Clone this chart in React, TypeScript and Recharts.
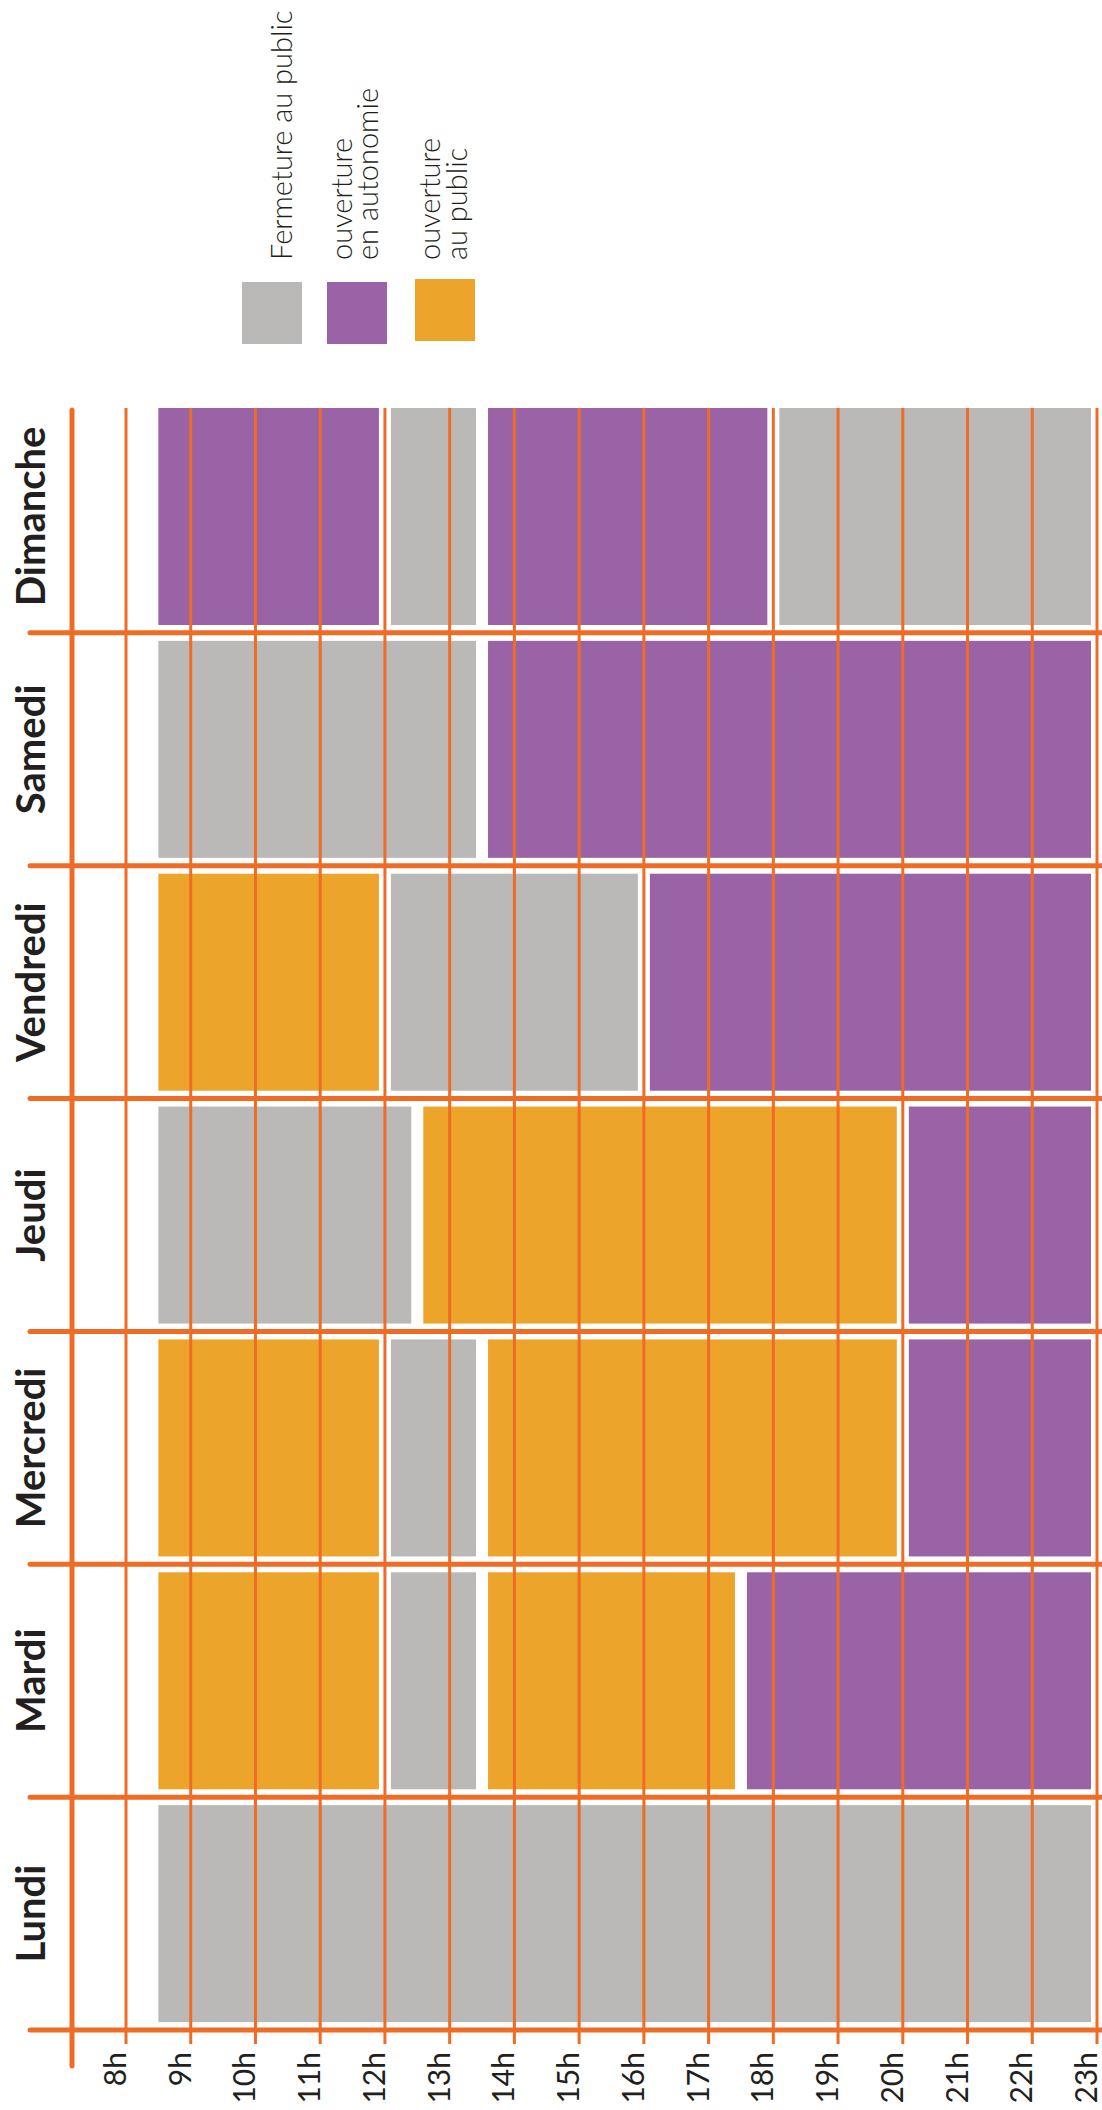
import { BarChart, Bar, XAxis, YAxis, Legend } from 'recharts';

// jours, du haut vers le bas
const days = ['Dimanche', 'Samedi', 'Vendredi', 'Jeudi', 'Mercredi', 'Mardi', 'Lundi'];
const hours = [8, 9, 10, 11, 12, 13, 14, 15, 16, 17, 18, 19, 20, 21, 22, 23];

// bornes des plages horaires + statut de chaque plage
const dimancheHours = [8.5, 12, 13.5, 18, 23];
const dimancheStatus = ['autonomie', 'fermeture', 'autonomie', 'fermeture'];
const samediHours = [8.5, 13.5, 23];
const samediStatus = ['fermeture', 'autonomie'];
const vendrediHours = [8.5, 12, 16, 23];
const vendrediStatus = ['public', 'fermeture', 'autonomie'];
const jeudiHours = [8.5, 12.5, 20, 23];
const jeudiStatus = ['fermeture', 'public', 'autonomie'];
const mercrediHours = [8.5, 12, 13.5, 20, 23];
const mercrediStatus = ['public', 'fermeture', 'public', 'autonomie'];
const mardiHours = [8.5, 12, 13.5, 17.5, 23];
const mardiStatus = ['public', 'fermeture', 'public', 'autonomie'];
const lundiHours = [8.5, 23];
const lundiStatus = ['fermeture'];

const legendKeys = ['fermeture', 'autonomie', 'public'];
const legendLabels = [['Fermeture au public'], ['ouverture', 'en autonomie'], ['ouverture', 'au public']];

const colors: Record<string, string> = {
  fermeture: '#BAB9B7',
  autonomie: '#9A63A6',
  public: '#EDA42B',
};
const LINE = '#EE6C25';
const TEXT = '#231F20';
const FONT = 'Lato, "Open Sans", sans-serif';

const W = 1102;
const H = 2110;
const TOP = 400;
const AXIS_H = 80;
const LEFT = 71;
const PLOT_BOTTOM = H - AXIS_H;
const BAND = (PLOT_BOTTOM - TOP) / days.length;
const GAP = 6;

const schedule = [
  [dimancheHours, dimancheStatus],
  [samediHours, samediStatus],
  [vendrediHours, vendrediStatus],
  [jeudiHours, jeudiStatus],
  [mercrediHours, mercrediStatus],
  [mardiHours, mardiStatus],
  [lundiHours, lundiStatus],
] as [number[], string[]][];

const data = days.map((day, i) => {
  const [h, st] = schedule[i];
  const row: any = { day, base: h[0] };
  st.forEach((s, k) => {
    row[`s${k}`] = h[k + 1] - h[k];
    row[`st${k}`] = s;
  });
  return row;
});

const segShape = (k: number) => (props: any) => {
  const { x, y, width, height, payload } = props;
  const status = payload?.[`st${k}`];
  if (!status || !(width > 0)) return <g />;
  const l = k === 0 ? 0 : GAP;
  return <rect x={x + l} y={y} width={width - l - GAP} height={height} fill={colors[status]} />;
};

const DayTick = (props: any) => {
  const { y, payload, index } = props;
  const top = y - BAND / 2;
  const bottom = y + BAND / 2;
  const last = index === days.length - 1;
  return (
    <g>
      <line x1={LEFT + 1} x2={LEFT + 1} y1={index === 0 ? top + 10 : top} y2={last ? bottom + 36 : bottom}
        stroke={LINE} strokeWidth={5} strokeLinecap="round" />
      <line x1={30} x2={W + 4} y1={bottom} y2={bottom} stroke={LINE} strokeWidth={5} strokeLinecap="round" />
      <text x={45} y={y} transform={`rotate(-90, 45, ${y})`} textAnchor="middle"
        fontFamily={FONT} fontSize={40} fontWeight={700} fill={TEXT}>
        {payload.value}
      </text>
    </g>
  );
};

const HourTick = (props: any) => {
  const { x, payload } = props;
  return (
    <g>
      <line x1={x} x2={x} y1={TOP + 8} y2={PLOT_BOTTOM + 14} stroke={LINE} strokeWidth={3} />
      <text x={x} y={2052} transform={`rotate(-90, ${x}, 2052)`} textAnchor="end"
        fontFamily={FONT} fontSize={30} fill={TEXT}>
        {`${payload.value}h`}
      </text>
    </g>
  );
};

const LegendBox = () => {
  const squares = [
    { x: 242, y: 282 },
    { x: 327, y: 282 },
    { x: 415, y: 279 },
  ];
  const baselines = [[292], [352, 378], [440, 467]];
  return (
    <svg width={500} height={360}>
      {legendKeys.map((k, i) => (
        <g key={k}>
          <rect x={squares[i].x} y={squares[i].y} width={60} height={62} fill={colors[k]} />
          {legendLabels[i].map((t, j) => (
            <text key={j} x={baselines[i][j]} y={260} transform={`rotate(-90, ${baselines[i][j]}, 260)`}
              fontFamily={FONT} fontSize={29} fontWeight={300} fill={TEXT}>
              {t}
            </text>
          ))}
        </g>
      ))}
    </svg>
  );
};

export default function App() {
  return (
    <div style={{ position: 'absolute', left: 0, top: 0, background: '#fff' }}>
      <BarChart
        width={W}
        height={H}
        data={data}
        layout="vertical"
        barCategoryGap={8}
        margin={{ top: TOP, right: 5, bottom: 0, left: 0 }}
      >
        <Legend
          layout="horizontal"
          verticalAlign="middle"
          align="center"
          content={() => <LegendBox />}
          wrapperStyle={{ top: 0, left: 0, width: 500, height: 360 }}
        />
        <Bar dataKey="base" stackId="a" fill="none" isAnimationActive={false} shape={() => <g />} />
        {[0, 1, 2, 3].map((k) => (
          <Bar key={k} dataKey={`s${k}`} stackId="a" isAnimationActive={false} shape={segShape(k)} />
        ))}
        <YAxis type="category" dataKey="day" width={LEFT} axisLine={false} tickLine={false} tick={DayTick} interval={0} />
        <XAxis
          type="number"
          domain={[8, 23]}
          allowDataOverflow
          ticks={hours}
          interval={0}
          padding={{ left: 55, right: 0 }}
          height={AXIS_H}
          axisLine={false}
          tickLine={false}
          tick={HourTick}
        />
      </BarChart>
    </div>
  );
}
